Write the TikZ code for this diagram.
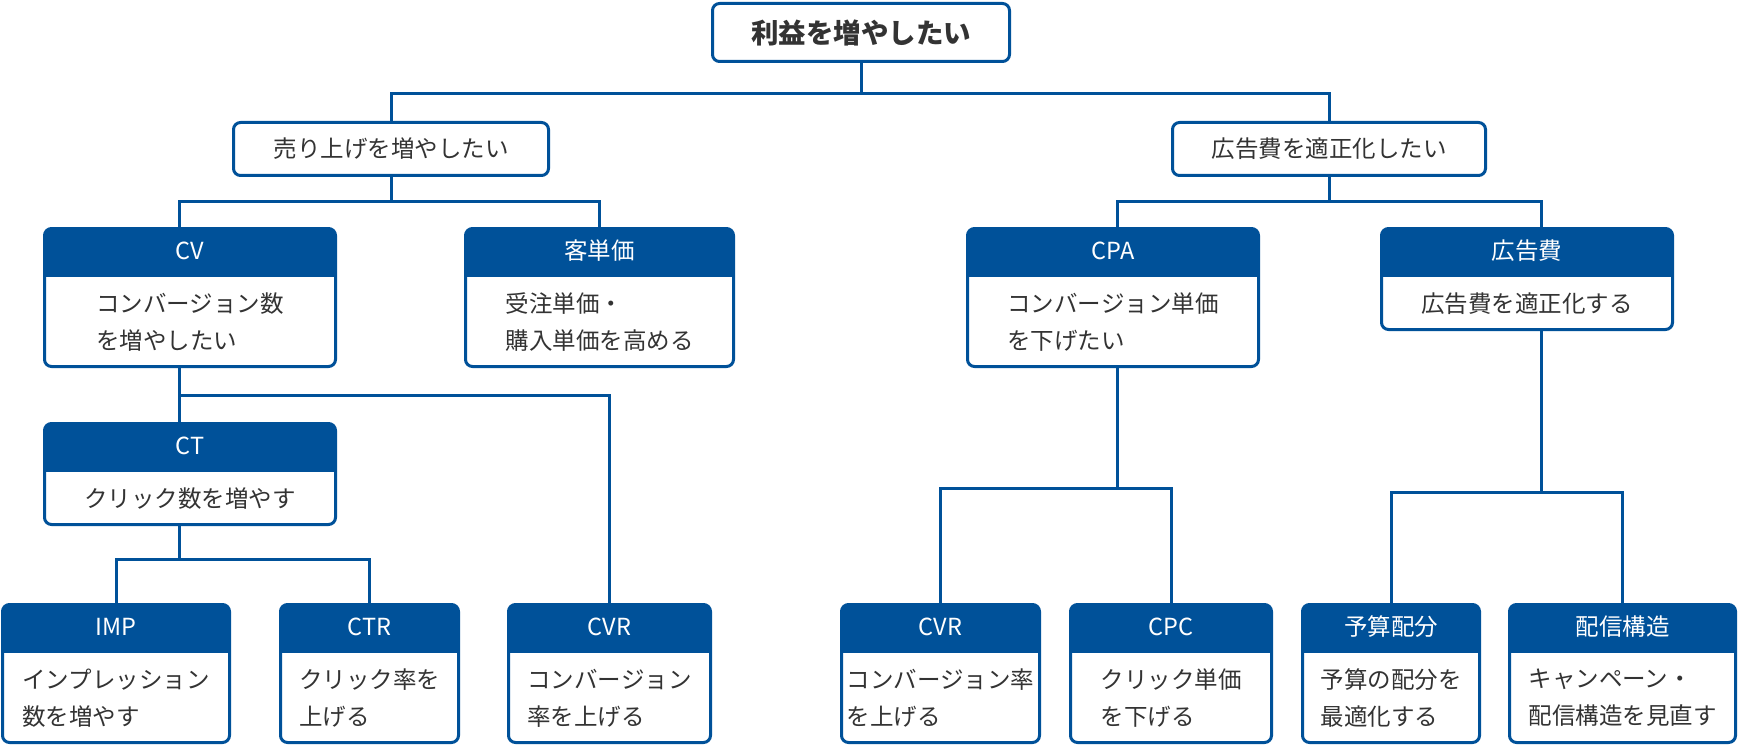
\documentclass[tikz,border=0pt]{standalone}
\usepackage{fontspec}
\setmainfont{Noto Sans CJK JP}
\usepackage{tikz}
\definecolor{kpiblue}{RGB}{0,81,153}
\definecolor{kpitext}{RGB}{51,51,51}

\tikzset{
  card/.style={draw=kpiblue, line width=3pt, rounded corners=7pt, fill=white,
    path picture={\fill[kpiblue, sharp corners] (path picture bounding box.north west)
      rectangle ([yshift=-48.5pt]path picture bounding box.north east);}},
  goal/.style={draw=kpiblue, line width=3pt, rounded corners=7pt, fill=white,
    text=kpitext, font=\fontsize{23.5}{37}\selectfont},
  headtxt/.style={text=white, inner sep=0pt, font=\fontsize{23.5}{28}\selectfont},
  bodytxt/.style={text=kpitext, align=left, inner sep=0pt, font=\fontsize{23.5}{37}\selectfont},
  link/.style={draw=kpiblue, line width=3pt}
}

% card: name, centre, width, height, header, body
\newcommand{\kpicard}[6]{%
  \node[card, minimum width=#3, minimum height=#4] (#1) at #2 {};
  \node[headtxt] (#1h) at ([yshift=-23.5pt]#1.north) {#5};
  \node[bodytxt] (#1b) at ([yshift=-24.5pt]#1.center) {#6};}

\begin{document}
\begin{tikzpicture}[x=1pt, y=-1pt]
    \useasboundingbox (0,0) rectangle (1739,746);

    \node[goal, minimum width=297pt, minimum height=58pt, font=\fontsize{27.5}{30}\selectfont\bfseries] (root) at (861,32.5) {利益を増やしたい};
    \node[goal, minimum width=315pt, minimum height=53pt] (uri) at (391,149) {売り上げを増やしたい};
    \node[goal, minimum width=313pt, minimum height=53pt] (kaizen) at (1329,149) {広告費を適正化したい};

    \kpicard{cv}{(190,297.5)}{291pt}{138pt}{CV}{コンバージョン数\\を増やしたい}
    \kpicard{kyaku}{(599.5,297.5)}{268pt}{138pt}{客単価}{受注単価・\\購入単価を高める}
    \kpicard{cpa}{(1113,297.5)}{291pt}{138pt}{CPA}{コンバージョン単価\\を下げたい}
    \kpicard{kokoku}{(1527,279)}{291pt}{101pt}{広告費}{広告費を適正化する}
    \kpicard{ct}{(190,474)}{291pt}{101pt}{CT}{クリック数を増やす}

    \kpicard{imp}{(116,673.5)}{227pt}{138pt}{IMP}{インプレッション\\数を増やす}
    \kpicard{ctr}{(369.5,673.5)}{178pt}{138pt}{CTR}{クリック率を\\上げる}
    \kpicard{cvrA}{(609.5,673.5)}{202pt}{138pt}{CVR}{コンバージョン\\率を上げる}
    \kpicard{cvrB}{(940.5,673.5)}{198pt}{138pt}{CVR}{コンバージョン率\\を上げる}
    \kpicard{cpc}{(1171,673.5)}{201pt}{138pt}{CPC}{クリック単価\\を下げる}
    \kpicard{yosan}{(1391,673.5)}{177pt}{138pt}{予算配分}{予算の配分を\\最適化する}
    \kpicard{haishin}{(1622.5,673.5)}{226pt}{138pt}{配信構造}{キャンペーン・\\配信構造を見直す}

    % branch points
    \coordinate (r0) at (861,94);
    \coordinate (r1) at (391,202);
    \coordinate (r2) at (1329,202);
    \coordinate (r3) at (179,395);
    \coordinate (r4) at (179,559);
    \coordinate (r5) at (1117,488);
    \coordinate (r6) at (1541,492);

    \draw[link] (root.south) -- (r0) -| (uri.north);
    \draw[link] (r0) -| (kaizen.north);
    \draw[link] (uri.south) -- (r1) -| (cv.north -| r3);
    \draw[link] (r1) -| (kyaku.north);
    \draw[link] (kaizen.south) -- (r2) -| (cpa.north -| r5);
    \draw[link] (r2) -| (kokoku.north -| r6);
    \draw[link] (cv.south -| r3) -- (ct.north -| r3);
    \draw[link] (r3) -| (cvrA.north);
    \draw[link] (ct.south -| r3) -- (r4) -| (imp.north);
    \draw[link] (r4) -| (ctr.north);
    \draw[link] (cpa.south -| r5) -- (r5) -| (cvrB.north);
    \draw[link] (r5) -| (cpc.north);
    \draw[link] (kokoku.south -| r6) -- (r6) -| (yosan.north);
    \draw[link] (r6) -| (haishin.north);
\end{tikzpicture}
\end{document}
